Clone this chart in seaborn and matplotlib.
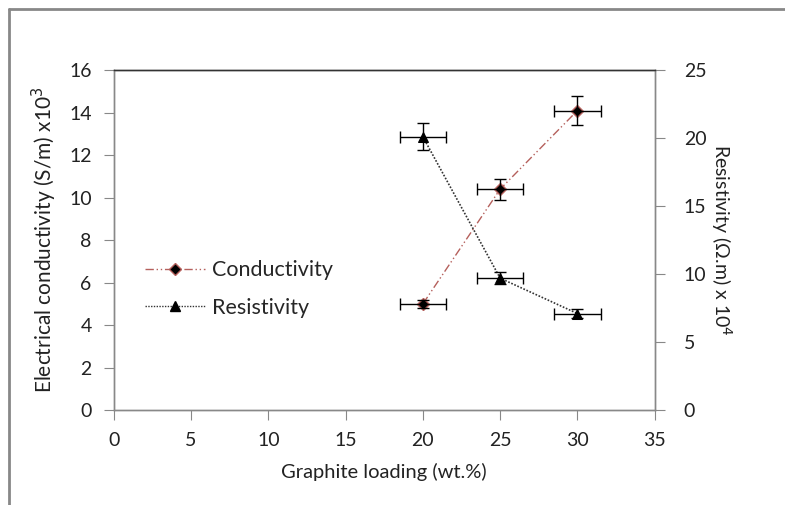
import matplotlib
matplotlib.use("Agg")
import matplotlib.pyplot as plt
import seaborn as sns
import pandas as pd
from matplotlib.lines import Line2D

# data
loading = [20, 25, 30]
loading_err = [1.5, 1.5, 1.5]
conductivity = [5.0, 10.4, 14.1]
conductivity_err = [0.2, 0.5, 0.7]
resistivity = [20.1, 9.7, 7.1]
resistivity_err = [1.0, 0.45, 0.35]

sns.set_theme(style="white")
plt.rcParams["font.family"] = ["Lato", "DejaVu Sans"]

df = pd.DataFrame({"loading": loading, "conductivity": conductivity,
                   "resistivity": resistivity})

fig = plt.figure(figsize=(7.85, 5.05), dpi=100)
ax = fig.add_axes([0.145, 0.188, 0.689, 0.673])
ax2 = ax.twinx()

cond_col = "#B5605C"
cond_ls = (0, (6, 2, 1, 2, 1, 2))
sns.lineplot(data=df, x="loading", y="conductivity", ax=ax, color=cond_col,
             linestyle=cond_ls, linewidth=1.0, marker="D",
             markersize=6, markerfacecolor="black", markeredgecolor=cond_col,
             markeredgewidth=1.0, label="Conductivity", legend=False)
ax.errorbar(loading, conductivity, xerr=loading_err, yerr=conductivity_err,
            fmt="none", ecolor="black", elinewidth=1, capsize=4, zorder=3)

sns.lineplot(data=df, x="loading", y="resistivity", ax=ax2, color="#333333",
             linestyle=(0, (1, 1)), linewidth=1.2, marker="^", markersize=7,
             markerfacecolor="black", markeredgecolor="black",
             label="Resistivity", legend=False)
ax2.errorbar(loading, resistivity, xerr=loading_err, yerr=resistivity_err,
             fmt="none", ecolor="black", elinewidth=1, capsize=4, zorder=3)

ax.set_xlim(0, 35)
ax.set_ylim(0, 16)
ax2.set_ylim(0, 25)
ax.set_xticks(range(0, 36, 5))
ax.set_yticks(range(0, 17, 2))
ax2.set_yticks(range(0, 26, 5))

txt = "#222222"
ax.set_xlabel("Graphite loading (wt.%)", fontsize=14.5, color=txt, labelpad=10)
ax.set_ylabel("Electrical conductivity (S/m) x10$^3$", fontsize=15,
              color=txt, labelpad=7)
ax2.set_ylabel("Resistivity (\u03a9.m) x 10$^4$", fontsize=14, color=txt,
               rotation=-90, labelpad=20)

for a in (ax, ax2):
    a.tick_params(axis="both", direction="out", length=7, width=0.8,
                  color="#888888", labelsize=14, labelcolor=txt, pad=9)
    for side in ("left", "right", "bottom"):
        a.spines[side].set_color("#888888")
        a.spines[side].set_linewidth(1.0)
    a.spines["top"].set_color("#333333")
    a.spines["top"].set_linewidth(1.0)
ax.tick_params(axis="y", left=True)
ax.tick_params(axis="x", bottom=True)
ax2.tick_params(axis="y", right=True, pad=14)

handles = [
    Line2D([], [], color=cond_col, linestyle=cond_ls, marker="D",
           markersize=6, markerfacecolor="black", markeredgecolor=cond_col,
           linewidth=1.0),
    Line2D([], [], color="#333333", linestyle=(0, (1, 1)), marker="^",
           markersize=7, markerfacecolor="black", markeredgecolor="black",
           linewidth=1.0),
]
ax.legend(handles, ["Conductivity", "Resistivity"], loc="center left",
          bbox_to_anchor=(0.022, 0.356), frameon=False, fontsize=15.5,
          handlelength=2.8, labelspacing=0.8, handletextpad=0.3)

# the outer chart frame (only top and left edges visible in the crop)
fig.add_artist(Line2D([9 / 785, 1.0], [1 - 9 / 505, 1 - 9 / 505],
                      transform=fig.transFigure, color="#888888", linewidth=2))
fig.add_artist(Line2D([9 / 785, 9 / 785], [0.0, 1 - 9 / 505],
                      transform=fig.transFigure, color="#888888", linewidth=2))

fig.savefig("out.png", dpi=100)
